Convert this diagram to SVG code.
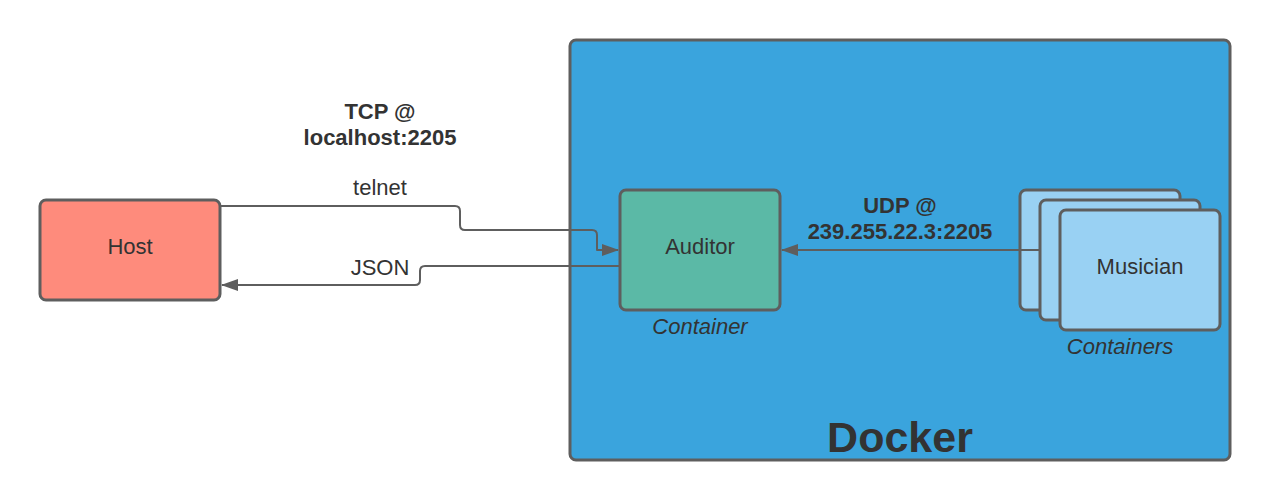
<svg xmlns="http://www.w3.org/2000/svg" width="1280" height="500" viewBox="0 0 1280 500">
<style>
text{font-family:"Liberation Sans",Arial,sans-serif;fill:#333333;text-anchor:middle}
.lbl{font-size:22px}
.b{font-weight:bold;font-size:22px}
.i{font-style:italic;font-size:22px}
.box{stroke:#5e5e5e;stroke-width:3}
.wire{fill:none;stroke:#5e5e5e;stroke-width:2;stroke-linejoin:round}
</style>
<defs>
<marker id="ah" viewBox="0 0 17 12" refX="16" refY="6" markerWidth="17" markerHeight="12" markerUnits="userSpaceOnUse" orient="auto">
<path d="M0,0 L17,6 L0,12 Z" fill="#5e5e5e"/>
</marker>
</defs>
<rect width="1280" height="500" fill="#ffffff"/>
<g id="docker">
<rect class="box" x="570" y="40" width="660" height="420" rx="6" fill="#3aa4dd"/>
<text x="900" y="452" style="font-size:43px;font-weight:bold">Docker</text>
</g>
<g id="host">
<rect class="box" x="40" y="200" width="180" height="100" rx="6" fill="#fe8b7c"/>
<text class="lbl" x="130" y="254">Host</text>
</g>
<g id="auditor">
<rect class="box" x="620" y="190" width="160" height="120" rx="6" fill="#5bb9a6"/>
<text class="lbl" x="700" y="254">Auditor</text>
<text class="i" x="700" y="334">Container</text>
</g>
<g id="musicians">
<rect class="box" x="1020" y="190" width="160" height="120" rx="6" fill="#99d1f3"/>
<rect class="box" x="1040" y="200" width="160" height="120" rx="6" fill="#99d1f3"/>
<rect class="box" x="1060" y="210" width="160" height="120" rx="6" fill="#99d1f3"/>
<text class="lbl" x="1140" y="274">Musician</text>
<text class="i" x="1120" y="354">Containers</text>
</g>
<g id="connectors">
<path class="wire" d="M221,206 H455 Q460,206 460,211 V225 Q460,230 465,230 H592 Q597,230 597,235 V250 H618" marker-end="url(#ah)"/>
<path class="wire" d="M619,266 H425 Q420,266 420,271 V280 Q420,285 415,285 H222" marker-end="url(#ah)"/>
<path class="wire" d="M1039,250 H782" marker-end="url(#ah)"/>
<text class="b" x="380" y="119">TCP @</text>
<text class="b" x="380" y="145">localhost:2205</text>
<text class="lbl" x="380" y="195">telnet</text>
<text class="lbl" x="380" y="275">JSON</text>
<text class="b" x="900" y="213">UDP @</text>
<text class="b" x="900" y="239">239.255.22.3:2205</text>
</g>
</svg>
